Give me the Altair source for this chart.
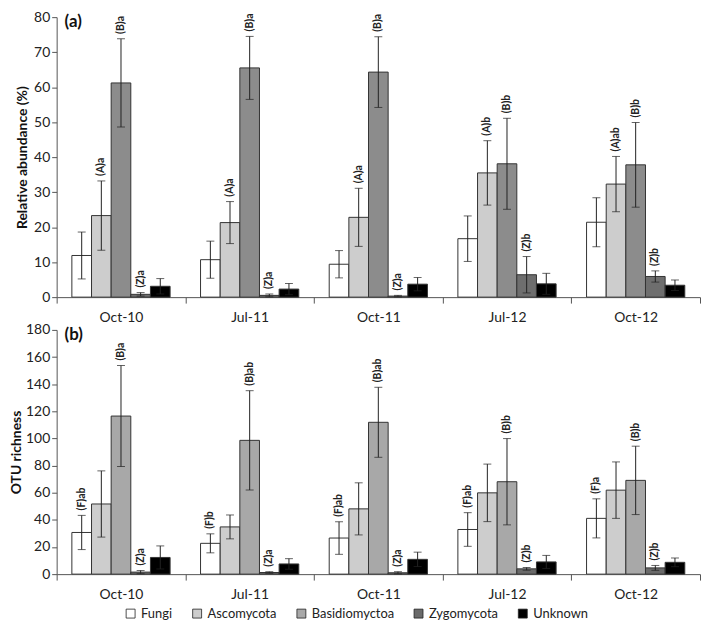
import altair as alt
import pandas as pd

dates = ["Oct-10", "Jul-11", "Oct-11", "Jul-12", "Oct-12"]
groups = ["Fungi", "Ascomycota", "Basidiomyctoa", "Zygomycota", "Unknown"]

# Panel (a): relative abundance (%)
a_fungi = [11.9, 10.7, 9.4, 16.7, 21.4]
a_asco = [23.3, 21.3, 22.8, 35.5, 32.3]
a_basid = [61.2, 65.5, 64.3, 38.1, 37.8]
a_zygo = [0.8, 0.5, 0.3, 6.4, 5.9]
a_unk = [3.1, 2.3, 3.7, 3.8, 3.4]
a_fungi_err = [6.7, 5.3, 3.9, 6.5, 7.0]
a_asco_err = [9.9, 6.0, 8.3, 9.2, 7.9]
a_basid_err = [12.6, 9.0, 10.1, 13.0, 12.1]
a_zygo_err = [0.5, 0.4, 0.2, 5.2, 1.6]
a_unk_err = [2.2, 1.6, 1.9, 3.0, 1.5]
a_fungi_lab = ["", "", "", "", ""]
a_asco_lab = ["(A)a", "(A)a", "(A)a", "(A)b", "(A)ab"]
a_basid_lab = ["(B)a", "(B)a", "(B)a", "(B)b", "(B)b"]
a_zygo_lab = ["(Z)a", "(Z)a", "(Z)a", "(Z)b", "(Z)b"]
a_unk_lab = ["", "", "", "", ""]

# Panel (b): OTU richness
b_fungi = [30.7, 22.7, 26.6, 32.9, 41.1]
b_asco = [51.7, 34.8, 48.1, 59.9, 61.9]
b_basid = [116.5, 98.6, 111.9, 68.1, 69.1]
b_zygo = [1.5, 1.2, 1.0, 3.9, 4.6]
b_unk = [12.3, 7.5, 10.9, 9.0, 8.7]
b_fungi_err = [12.6, 7.0, 12.0, 12.4, 14.4]
b_asco_err = [24.4, 8.8, 19.2, 21.2, 20.8]
b_basid_err = [37.2, 36.6, 25.8, 31.8, 25.2]
b_zygo_err = [1.2, 0.6, 0.8, 1.0, 1.8]
b_unk_err = [8.5, 3.9, 5.3, 4.8, 3.2]
b_fungi_lab = ["(F)ab", "(F)b", "(F)ab", "(F)ab", "(F)a"]
b_asco_lab = ["", "", "", "", ""]
b_basid_lab = ["(B)a", "(B)ab", "(B)ab", "(B)b", "(B)b"]
b_zygo_lab = ["(Z)a", "(Z)a", "(Z)a", "(Z)b", "(Z)b"]
b_unk_lab = ["", "", "", "", ""]

colors_a = ["#ffffff", "#cdcdcd", "#8c8c8c", "#6e6e6e", "#000000"]
colors_b = ["#ffffff", "#cdcdcd", "#a8a8a8", "#6a6a6a", "#000000"]

FONT = "Lato"


def build(means, errs, labs):
    rows = []
    for g, m, e, l in zip(groups, means, errs, labs):
        for d, mv, ev, lv in zip(dates, m, e, l):
            rows.append({"date": d, "group": g, "value": mv,
                         "lo": max(mv - ev, 0), "hi": mv + ev, "label": lv})
    return pd.DataFrame(rows)


df_a = build([a_fungi, a_asco, a_basid, a_zygo, a_unk],
             [a_fungi_err, a_asco_err, a_basid_err, a_zygo_err, a_unk_err],
             [a_fungi_lab, a_asco_lab, a_basid_lab, a_zygo_lab, a_unk_lab])
df_b = build([b_fungi, b_asco, b_basid, b_zygo, b_unk],
             [b_fungi_err, b_asco_err, b_basid_err, b_zygo_err, b_unk_err],
             [b_fungi_lab, b_asco_lab, b_basid_lab, b_zygo_lab, b_unk_lab])

W = 648


def panel(df, colors, ymax, ystep, ytitle, letter, height, legend):
    xaxis = alt.Axis(labelAngle=0, tickBand="extent", tickSize=6,
                     labelPadding=8, labelFontSize=14, labelFont=FONT,
                     labelColor="#222", domainColor="#555", tickColor="#555")
    xscale = alt.Scale(domain=dates, paddingInner=0, paddingOuter=0)
    xenc = alt.X("date:N", sort=dates, title=None, scale=xscale, axis=xaxis)
    xoff = alt.XOffset("group:N", sort=groups,
                       scale=alt.Scale(domain=groups, paddingInner=0,
                                       paddingOuter=0.775))
    yaxis = alt.Axis(values=list(range(0, ymax + 1, ystep)),
                     grid=False, tickSize=5, labelFontSize=14,
                     labelFont=FONT, labelColor="#222",
                     labelPadding=2, labelOverlap=False,
                     domainColor="#555", tickColor="#555",
                     titleFont=FONT, titleFontSize=14,
                     titleFontWeight="bold", titleColor="#111",
                     minExtent=25, titlePadding=2)
    yscale = alt.Scale(domain=[0, ymax], nice=False)

    def Y(field):
        return alt.Y(field, title=ytitle, scale=yscale, axis=yaxis)

    if legend:
        leg = alt.Legend(title=None, orient="none", legendX=68,
                         legendY=height + 33, direction="horizontal",
                         symbolType="square", symbolSize=81,
                         symbolStrokeColor="#222", symbolStrokeWidth=0.8,
                         labelFont=FONT, labelFontSize=13, labelColor="#222",
                         columnPadding=18, labelOffset=4)
    else:
        leg = None
    color = alt.Color("group:N", sort=groups,
                      scale=alt.Scale(domain=groups, range=colors),
                      legend=leg)
    base = alt.Chart(df)
    bars = base.mark_bar(stroke="#333", strokeWidth=1).encode(
        x=xenc, xOffset=xoff, y=Y("value:Q"), color=color)
    errs = base.mark_rule(color="#222", strokeWidth=1).encode(
        x=xenc, xOffset=xoff, y=Y("lo:Q"), y2="hi:Q")
    cap_lo = base.mark_tick(color="#222", thickness=1, size=8).encode(
        x=xenc, xOffset=xoff, y=Y("lo:Q"))
    cap_hi = base.mark_tick(color="#222", thickness=1, size=8).encode(
        x=xenc, xOffset=xoff, y=Y("hi:Q"))
    texts = base.transform_filter(alt.datum.label != "").mark_text(
        angle=270, align="left", baseline="middle", dx=5, font=FONT,
        fontSize=10.5, fontWeight="bold", color="#222").encode(
        x=xenc, xOffset=xoff, y=Y("hi:Q"), text="label:N")
    let = alt.Chart(pd.DataFrame({"t": [letter]})).mark_text(
        align="left", baseline="middle", font=FONT, fontSize=17,
        fontWeight="bold", color="#111").encode(
        x=alt.value(8), y=alt.value(5), text="t:N")
    return alt.layer(bars, errs, cap_lo, cap_hi, texts, let).properties(
        width=W, height=height)


pa = panel(df_a, colors_a, 80, 10, "Relative abundance (%)", "(a)", 282, False)
pb = panel(df_b, colors_b, 180, 20, "OTU richness", "(b)", 246, True)

chart = alt.vconcat(pa, pb, spacing=33, bounds="flush").resolve_scale(
    color="independent").properties(
    padding={"left": 1, "top": 0, "right": 0, "bottom": 0}
).configure_view(stroke=None)

chart.save("out.html", embed_options={"renderer": "svg", "actions": False})
